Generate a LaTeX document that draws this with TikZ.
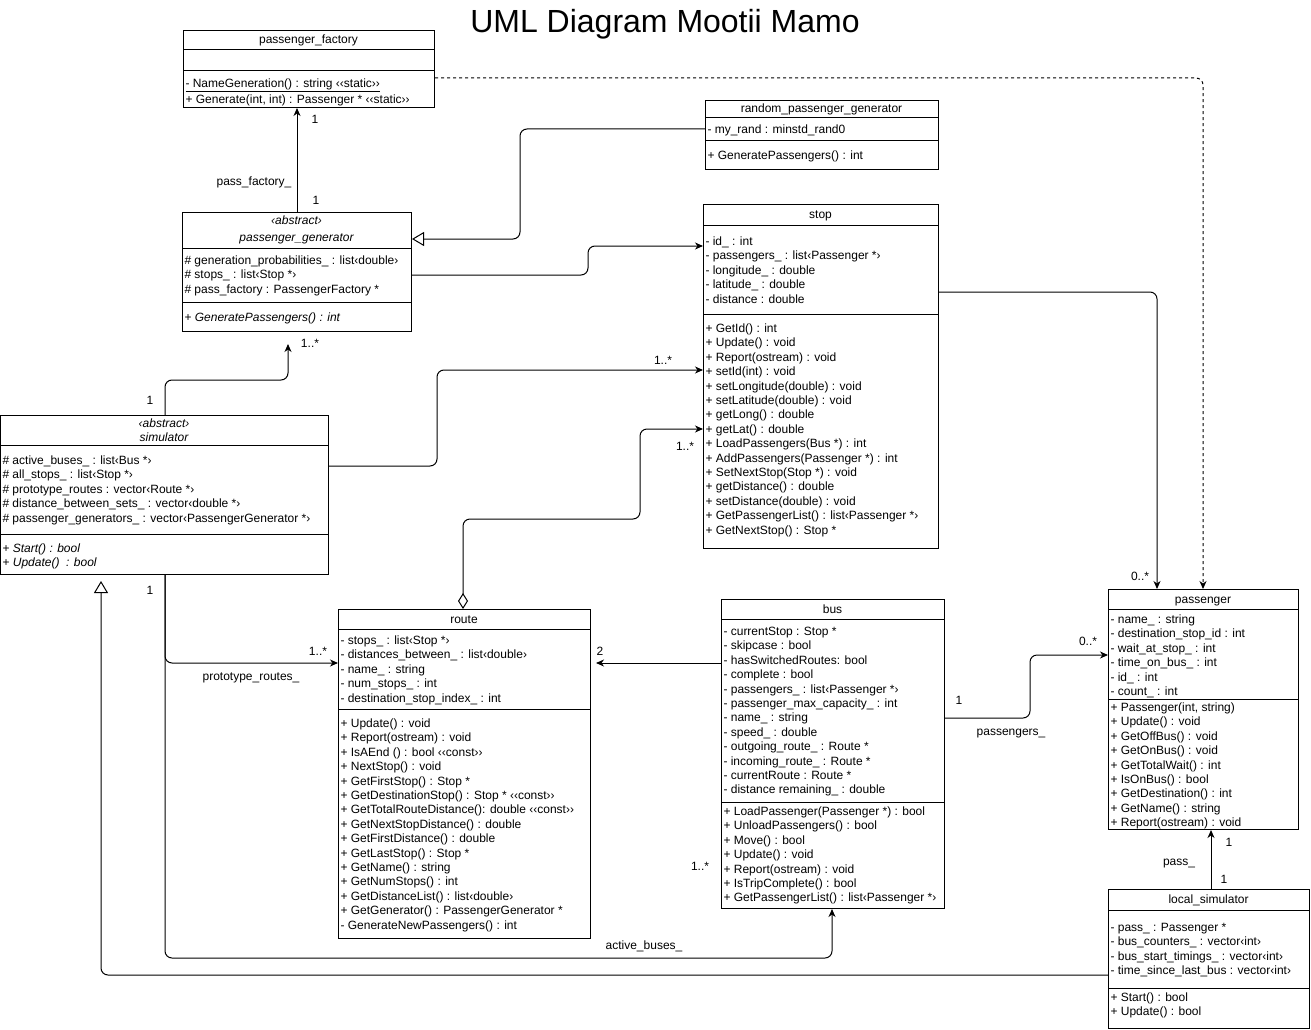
\documentclass[tikz,border=0pt]{standalone}
\usepackage{fontspec}
\setmainfont{Liberation Sans}
\usetikzlibrary{arrows.meta}
\tikzset{
  cls/.style={draw, anchor=north west, inner sep=0pt},
  ttl/.style={anchor=base, inner sep=0pt, font=\fontsize{12}{14.4}\selectfont},
  ittl/.style={anchor=base, inner sep=0pt, font=\fontsize{12}{14.4}\selectfont\itshape},
  txt/.style={anchor=north west, align=left, inner sep=0pt, font=\fontsize{12}{14.4}\selectfont},
  lbl/.style={anchor=base, inner sep=0pt, font=\fontsize{12}{14.4}\selectfont},
  assoc/.style={-{Stealth[length=8pt,width=7pt,inset=2.5pt]}, rounded corners=7pt},
  gen/.style={-{Triangle[open,length=12pt,width=14pt]}, rounded corners=7pt},
  aggr/.style={{Diamond[open,length=16pt,width=10pt]}-{Stealth[length=8pt,width=7pt,inset=2.5pt]}, rounded corners=7pt},
}
\begin{document}
\begin{tikzpicture}[x=1pt,y=-1pt,line width=1pt]
\path[use as bounding box, fill=white] (0,0) rectangle (1311,1030);
\node[anchor=base, inner sep=0pt, font=\fontsize{32}{38}\selectfont] (title) at (665,33) {UML Diagram Mootii Mamo};

\node[cls, minimum width=251, minimum height=77] (pf) at (183,30) {};
\node[ttl] (pfT) at (308.5,44) {passenger\_factory};
\draw (pf.west |- 0,50) -- (pf.east |- 0,50) (pf.west |- 0,71) -- (pf.east |- 0,71);
\node[txt, font=\fontsize{12}{16}\selectfont] (pfM) at (185,75.8) {\strut\underline{- NameGeneration() : string ‹‹static››}\\\underline{+ Generate(int, int) : Passenger * ‹‹static››}};

\node[cls, minimum width=229, minimum height=119] (pg) at (182,212) {};
\node[ittl] (pgS) at (296.5,224) {‹abstract›};
\node[ittl] (pgT) at (296.5,241) {passenger\_generator};
\draw (pg.west |- 0,248) -- (pg.east |- 0,248) (pg.west |- 0,302) -- (pg.east |- 0,302);
\node[txt] (pgA) at (184,254) {\strut\# generation\_probabilities\_ : list‹double›\\\# stops\_ : list‹Stop *›\\\# pass\_factory : PassengerFactory *};
\node[txt] (pgM) at (184,311) {\strut+ \textit{GeneratePassengers() : int}};

\node[cls, minimum width=233, minimum height=69] (rpg) at (705,100) {};
\node[ttl] (rpgT) at (821.5,113) {random\_passenger\_generator};
\draw (rpg.west |- 0,118) -- (rpg.east |- 0,118) (rpg.west |- 0,140) -- (rpg.east |- 0,140);
\node[txt] (rpgA) at (707,123) {\strut- my\_rand : minstd\_rand0};
\node[txt] (rpgM) at (707,149) {\strut+ GeneratePassengers() : int};

\node[cls, minimum width=235, minimum height=344] (stop) at (703,204) {};
\node[ttl] (stopT) at (820.5,218) {stop};
\draw (stop.west |- 0,225) -- (stop.east |- 0,225) (stop.west |- 0,314) -- (stop.east |- 0,314);
\node[txt] (stopA) at (705,235) {\strut- id\_ : int\\- passengers\_ : list‹Passenger *›\\- longitude\_ : double\\- latitude\_ : double\\- distance : double};
\node[txt] (stopM) at (705,322) {\strut+ GetId() : int\\+ Update() : void\\+ Report(ostream) : void\\+ setId(int) : void\\+ setLongitude(double) : void\\+ setLatitude(double) : void\\+ getLong() : double\\+ getLat() : double\\+ LoadPassengers(Bus *) : int\\+ AddPassengers(Passenger *) : int\\+ SetNextStop(Stop *) : void\\+ getDistance() : double\\+ setDistance(double) : void\\+ GetPassengerList() : list‹Passenger *›\\+ GetNextStop() : Stop *};

\node[cls, minimum width=328, minimum height=159] (sim) at (0,415) {};
\node[ittl] (simS) at (164,427) {‹abstract›};
\node[ittl] (simT) at (164,441) {simulator};
\draw (sim.west |- 0,445) -- (sim.east |- 0,445) (sim.west |- 0,534) -- (sim.east |- 0,534);
\node[txt] (simA) at (2,454) {\strut\# active\_buses\_ : list‹Bus *›\\\# all\_stops\_ : list‹Stop *›\\\# prototype\_routes : vector‹Route *›\\\# distance\_between\_sets\_ : vector‹double *›\\\# passenger\_generators\_ : vector‹PassengerGenerator *›};
\node[txt] (simM) at (2,542) {\strut+ \textit{Start() : bool}\\+ \textit{Update()~ : bool}};

\node[cls, minimum width=252, minimum height=329] (route) at (338,609) {};
\node[ttl] (routeT) at (464,623) {route};
\draw (route.west |- 0,629) -- (route.east |- 0,629) (route.west |- 0,709) -- (route.east |- 0,709);
\node[txt] (routeA) at (340,634) {\strut- stops\_ : list‹Stop *›\\- distances\_between\_ : list‹double›\\- name\_ : string\\- num\_stops\_ : int\\- destination\_stop\_index\_ : int};
\node[txt] (routeM) at (340,717) {\strut+ Update() : void\\+ Report(ostream) : void\\+ IsAEnd () : bool ‹‹const››\\+ NextStop() : void\\+ GetFirstStop() : Stop *\\+ GetDestinationStop() : Stop * ‹‹const››\\+ GetTotalRouteDistance(): double ‹‹const››\\+ GetNextStopDistance() : double\\+ GetFirstDistance() : double\\+ GetLastStop() : Stop *\\+ GetName() : string\\+ GetNumStops() : int\\+ GetDistanceList() : list‹double›\\+ GetGenerator() : PassengerGenerator *\\- GenerateNewPassengers() : int};

\node[cls, minimum width=223, minimum height=309] (bus) at (721,599) {};
\node[ttl] (busT) at (832.5,613) {bus};
\draw (bus.west |- 0,619) -- (bus.east |- 0,619) (bus.west |- 0,802) -- (bus.east |- 0,802);
\node[txt] (busA) at (723,625) {\strut- currentStop : Stop *\\- skipcase : bool\\- hasSwitchedRoutes: bool\\- complete : bool\\- passengers\_ : list‹Passenger *›\\- passenger\_max\_capacity\_ : int\\- name\_ : string\\- speed\_ : double\\- outgoing\_route\_ : Route *\\- incoming\_route\_ : Route *\\- currentRoute : Route *\\- distance remaining\_ : double};
\node[txt] (busM) at (723,805) {\strut+ LoadPassenger(Passenger *) : bool\\+ UnloadPassengers() : bool\\+ Move() : bool\\+ Update() : void\\+ Report(ostream) : void\\+ IsTripComplete() : bool\\+ GetPassengerList() : list‹Passenger *›};

\node[cls, minimum width=190, minimum height=240] (passenger) at (1108,589) {};
\node[ttl] (passengerT) at (1203,603) {passenger};
\draw (passenger.west |- 0,609) -- (passenger.east |- 0,609) (passenger.west |- 0,699) -- (passenger.east |- 0,699);
\node[txt] (passengerA) at (1110,613) {\strut- name\_ : string\\- destination\_stop\_id : int\\- wait\_at\_stop\_ : int\\- time\_on\_bus\_ : int\\- id\_ : int\\\underline{- count\_ : int}};
\node[txt] (passengerM) at (1110,701) {\strut+ Passenger(int, string)\\+ Update() : void\\+ GetOffBus() : void\\+ GetOnBus() : void\\+ GetTotalWait() : int\\+ IsOnBus() : bool\\+ GetDestination() : int\\+ GetName() : string\\+ Report(ostream) : void};

\node[cls, minimum width=201, minimum height=139] (ls) at (1108,889) {};
\node[ttl] (lsT) at (1208.5,903) {local\_simulator};
\draw (ls.west |- 0,910) -- (ls.east |- 0,910) (ls.west |- 0,988) -- (ls.east |- 0,988);
\node[txt] (lsA) at (1110,921) {\strut- pass\_ : Passenger *\\- bus\_counters\_ : vector‹int›\\- bus\_start\_timings\_ : vector‹int›\\- time\_since\_last\_bus : vector‹int›};
\node[txt] (lsM) at (1110,991) {\strut+ Start() : bool\\+ Update() : bool};

\draw[assoc] (pg.north) -- (pg.north |- pf.south);
\draw[gen] (rpg.west |- 0,129) -| (520,239) -- (pg.east |- 0,239);
\draw[assoc] (pg.east |- 0,275) -| (588,246) -- (stop.west |- 0,246);
\draw[assoc, dash pattern=on 3pt off 3pt] (pf.east |- 0,78) -| (1203,0 |- passenger.north);
\draw[assoc] (stop.east |- 0,292) -| (1157,0 |- passenger.north);
\draw[assoc, shorten >=12pt] (sim.north -| 165,0) |- (288,380) -- (288,0 |- pg.south);
\draw[assoc] (sim.east |- 0,466) -| (437,370) -- (stop.west |- 0,370);
\draw[aggr] (route.north -| 463,0) |- (640,519) |- (stop.west |- 0,429);
\draw[assoc] (sim.south -| 165,0) |- (route.west |- 0,663);
\draw[assoc] (sim.south -| 165,0) |- (832,958) -- (832,0 |- bus.south);
\draw[gen, shorten >=6pt] (ls.west |- 0,975) -| (101,0 |- sim.south);
\draw[assoc, shorten >=5pt] (bus.west |- 0,663) -- (route.east |- 0,663);
\draw[assoc] (bus.east |- 0,718) -| (1030,655) -- (passenger.west |- 0,655);
\draw[assoc] (ls.north -| 1211,0) -- (1211,0 |- passenger.south);

\node[lbl] (l1) at (315,124) {1};
\node[lbl] (l2) at (316,204) {1};
\node[lbl] (l3) at (254,185) {pass\_factory\_};
\node[lbl] (l4) at (310,347) {1..*};
\node[lbl] (l5) at (150,404) {1};
\node[lbl] (l6) at (663,364) {1..*};
\node[lbl] (l7) at (685,450) {1..*};
\node[lbl] (l8) at (150,594) {1};
\node[lbl] (l9) at (318,655) {1..*};
\node[lbl] (l10) at (251,680) {prototype\_routes\_};
\node[lbl] (l11) at (600,655) {2};
\node[lbl] (l12) at (700,870) {1..*};
\node[lbl] (l13) at (644,949) {active\_buses\_};
\node[lbl] (l14) at (959,704) {1};
\node[lbl] (l15) at (1088,645) {0..*};
\node[lbl] (l16) at (1011,735) {passengers\_};
\node[lbl] (l17) at (1140,580) {0..*};
\node[lbl] (l18) at (1179,865) {pass\_};
\node[lbl] (l19) at (1229,846) {1};
\node[lbl] (l20) at (1224,883) {1};
\end{tikzpicture}
\end{document}
